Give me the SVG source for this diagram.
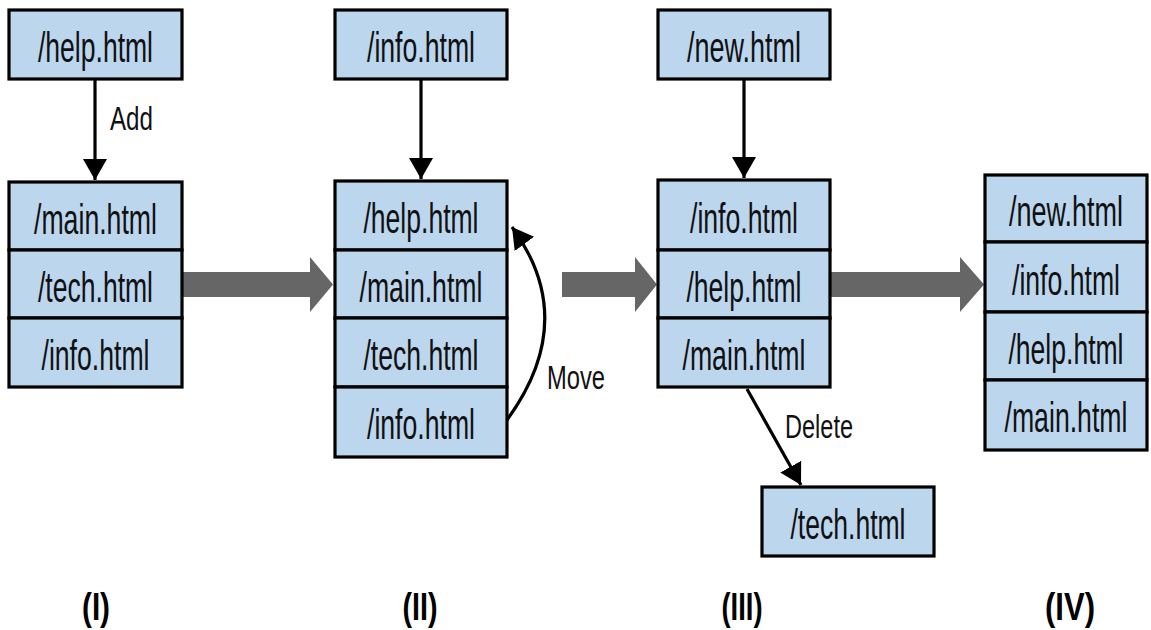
<svg xmlns="http://www.w3.org/2000/svg" width="1151" height="630" viewBox="0 0 1151 630">
<style>
.box{fill:#bcd6ee;stroke:#000;stroke-width:3.2}
.t{font-family:"Liberation Sans",Arial,sans-serif;font-size:43px;fill:#111;text-anchor:middle}
.lbl{font-family:"Liberation Sans",Arial,sans-serif;font-size:33px;fill:#111}
.num{font-family:"Liberation Sans",Arial,sans-serif;font-size:38px;font-weight:bold;fill:#000;text-anchor:middle}
.con{fill:none;stroke:#000;stroke-width:3.2}
.big{fill:#666666}
</style>
<defs>
<marker id="ah" markerUnits="userSpaceOnUse" markerWidth="22" markerHeight="26" refX="21" refY="12" orient="auto">
<path d="M0,0 L21,12 L0,24 z" fill="#000"/>
</marker>
</defs>
<rect width="1151" height="630" fill="#fff"/>

<g id="connectors">
<line class="con" x1="95" y1="80" x2="95" y2="180" marker-end="url(#ah)"/>
<line class="con" x1="421" y1="80" x2="421" y2="179" marker-end="url(#ah)"/>
<line class="con" x1="744" y1="80" x2="744" y2="178" marker-end="url(#ah)"/>
<path class="con" d="M507,420 Q580,320 512,227" marker-end="url(#ah)"/>
<line class="con" x1="747" y1="389" x2="801" y2="485" marker-end="url(#ah)"/>
<polygon class="big" points="183,272 310,272 310,257 333,284.5 310,312 310,297 183,297"/>
<polygon class="big" points="562,272 635,272 635,257 657,284.5 635,312 635,297 562,297"/>
<polygon class="big" points="831,272 960,272 960,257 984,284.5 960,312 960,297 831,297"/>
<text class="lbl" x="110" y="130" textLength="43" lengthAdjust="spacingAndGlyphs">Add</text>
<text class="lbl" x="547" y="389" textLength="58" lengthAdjust="spacingAndGlyphs">Move</text>
<text class="lbl" x="785" y="438" textLength="68" lengthAdjust="spacingAndGlyphs">Delete</text>
</g>

<g id="node-I-help">
<rect class="box" x="9" y="10" width="173" height="69"/>
<text class="t" x="95.5" y="62" textLength="115" lengthAdjust="spacingAndGlyphs">/help.html</text>
</g>
<g id="stack-I">
<rect class="box" x="9" y="182" width="173" height="68"/>
<text class="t" x="95.5" y="234" textLength="123" lengthAdjust="spacingAndGlyphs">/main.html</text>
<rect class="box" x="9" y="250" width="173" height="68"/>
<text class="t" x="95.5" y="302" textLength="115" lengthAdjust="spacingAndGlyphs">/tech.html</text>
<rect class="box" x="9" y="318" width="173" height="69"/>
<text class="t" x="95.5" y="370" textLength="108" lengthAdjust="spacingAndGlyphs">/info.html</text>
</g>

<g id="node-II-info">
<rect class="box" x="335" y="10" width="172" height="69"/>
<text class="t" x="421" y="62" textLength="108" lengthAdjust="spacingAndGlyphs">/info.html</text>
</g>
<g id="stack-II">
<rect class="box" x="335" y="181" width="172" height="69"/>
<text class="t" x="421" y="233" textLength="115" lengthAdjust="spacingAndGlyphs">/help.html</text>
<rect class="box" x="335" y="250" width="172" height="68"/>
<text class="t" x="421" y="302" textLength="123" lengthAdjust="spacingAndGlyphs">/main.html</text>
<rect class="box" x="335" y="318" width="172" height="69"/>
<text class="t" x="421" y="370" textLength="115" lengthAdjust="spacingAndGlyphs">/tech.html</text>
<rect class="box" x="335" y="387" width="172" height="70"/>
<text class="t" x="421" y="439" textLength="108" lengthAdjust="spacingAndGlyphs">/info.html</text>
</g>

<g id="node-III-new">
<rect class="box" x="658" y="10" width="172" height="69"/>
<text class="t" x="744" y="62" textLength="114" lengthAdjust="spacingAndGlyphs">/new.html</text>
</g>
<g id="stack-III">
<rect class="box" x="658" y="180" width="172" height="70"/>
<text class="t" x="744" y="233" textLength="108" lengthAdjust="spacingAndGlyphs">/info.html</text>
<rect class="box" x="658" y="250" width="172" height="68"/>
<text class="t" x="744" y="302" textLength="115" lengthAdjust="spacingAndGlyphs">/help.html</text>
<rect class="box" x="658" y="318" width="172" height="69"/>
<text class="t" x="744" y="370" textLength="123" lengthAdjust="spacingAndGlyphs">/main.html</text>
</g>
<g id="node-III-tech">
<rect class="box" x="762" y="487" width="172" height="69"/>
<text class="t" x="848" y="539" textLength="115" lengthAdjust="spacingAndGlyphs">/tech.html</text>
</g>

<g id="stack-IV">
<rect class="box" x="985" y="175" width="162" height="67"/>
<text class="t" x="1066" y="226" textLength="114" lengthAdjust="spacingAndGlyphs">/new.html</text>
<rect class="box" x="985" y="242" width="162" height="70"/>
<text class="t" x="1066" y="295" textLength="108" lengthAdjust="spacingAndGlyphs">/info.html</text>
<rect class="box" x="985" y="312" width="162" height="68"/>
<text class="t" x="1066" y="364" textLength="115" lengthAdjust="spacingAndGlyphs">/help.html</text>
<rect class="box" x="985" y="380" width="162" height="70"/>
<text class="t" x="1066" y="432" textLength="123" lengthAdjust="spacingAndGlyphs">/main.html</text>
</g>

<g id="stage-labels">
<text class="num" x="96" y="620" textLength="28" lengthAdjust="spacingAndGlyphs">(I)</text>
<text class="num" x="420" y="620" textLength="35" lengthAdjust="spacingAndGlyphs">(II)</text>
<text class="num" x="742" y="620" textLength="41" lengthAdjust="spacingAndGlyphs">(III)</text>
<text class="num" x="1070" y="620" textLength="50" lengthAdjust="spacingAndGlyphs">(IV)</text>
</g>
</svg>
